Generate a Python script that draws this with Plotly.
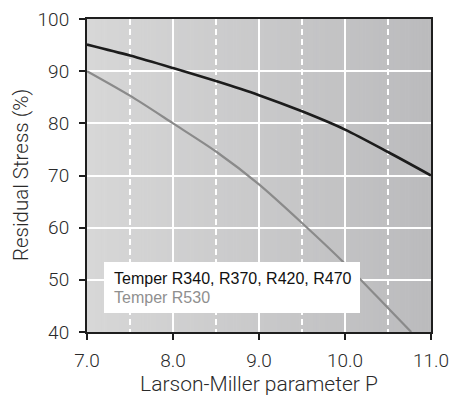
import plotly.graph_objects as go

# Data
p_black = [7.0, 7.5, 8.0, 8.5, 9.0, 9.5, 10.0, 10.5, 11.0]
s_black = [95.1, 93.0, 90.6, 88.1, 85.4, 82.3, 78.8, 74.5, 70.0]
p_gray = [7.0, 7.5, 8.0, 8.5, 9.0, 9.5, 10.0, 10.5, 10.77]
s_gray = [90.0, 85.3, 80.0, 74.6, 68.3, 60.9, 53.1, 44.6, 40.0]
name_black = "Temper R340, R370, R420, R470"
name_gray = "Temper R530"
x_ticks = [7.0, 8.0, 9.0, 10.0, 11.0]
y_ticks = [40, 50, 60, 70, 80, 90, 100]

FONT = "Roboto"
TXT = "#2a2a2a"

fig = go.Figure()
fig.add_trace(go.Scatter(x=p_black, y=s_black, mode="lines", line=dict(color="#1c1c1c", width=2.6, shape="spline", smoothing=0.8),
                         name=name_black, showlegend=False, hoverinfo="skip"))
fig.add_trace(go.Scatter(x=p_gray, y=s_gray, mode="lines", line=dict(color="#8a8a8a", width=2.2, shape="spline", smoothing=0.8),
                         name=name_gray, showlegend=False, hoverinfo="skip", cliponaxis=True))

# gradient background (style only)
shapes = []
N = 120
c0 = (215, 215, 215)
c1 = (187, 187, 189)
for i in range(N):
    t = i / (N - 1)
    c = tuple(round(c0[k] + (c1[k] - c0[k]) * t) for k in range(3))
    shapes.append(dict(type="rect", xref="paper", yref="paper", x0=i / N, x1=(i + 1) / N + 0.002, y0=0, y1=1,
                       fillcolor="rgb(%d,%d,%d)" % c, line=dict(width=0), layer="below"))

# legend box
L, R, T, B = 104, 360, 262, 313
def px(x):
    return (x - 87) / 344
def py(y):
    return (332 - y) / 313
shapes.append(dict(type="rect", xref="paper", yref="paper", x0=px(L), x1=px(R), y0=py(B), y1=py(T),
                   fillcolor="white", line=dict(width=0), layer="above"))

fig.update_layout(
    width=452, height=396,
    margin=dict(l=87, r=21, t=19, b=64),
    paper_bgcolor="white", plot_bgcolor="rgba(0,0,0,0)",
    shapes=shapes,
    font=dict(family=FONT, color=TXT, size=19, weight=300),
    annotations=[
        dict(xref="paper", yref="paper", x=px(112), y=py(278), text=name_black, showarrow=False,
             xanchor="left", yanchor="middle", font=dict(family="Liberation Sans", size=16, color="#111111")),
        dict(xref="paper", yref="paper", x=px(112), y=py(297), text=name_gray, showarrow=False,
             xanchor="left", yanchor="middle", font=dict(family="Liberation Sans", size=16, color="#8f8f8f")),
        dict(xref="paper", yref="paper", x=px(21), xanchor="center", y=py(175), yanchor="middle",
             text="Residual Stress (%)", textangle=-90, showarrow=False,
             font=dict(family=FONT, size=20.5, color=TXT, weight=300)),
    ],
)
fig.update_xaxes(range=[7, 11], tickvals=x_ticks, ticktext=["%.1f" % v for v in x_ticks],
                 showgrid=True, gridcolor="white", gridwidth=1.6, automargin=False,
                 minor=dict(dtick=0.5, tick0=7.5, showgrid=True, gridcolor="white", gridwidth=1.6, griddash="6px,4px"),
                 showline=True, linecolor="#1e1e1e", linewidth=2, mirror=True,
                 ticks="outside", ticklen=6, tickcolor="#1e1e1e", tickwidth=1.5,
                 tickfont=dict(size=19, color=TXT, weight=300), zeroline=False, ticklabelstandoff=4,
                 title=dict(text="Larson-Miller parameter P", font=dict(size=21, color=TXT, weight=300), standoff=5))
fig.update_yaxes(range=[40, 100], tickvals=y_ticks, showgrid=True, gridcolor="white", gridwidth=1.6, automargin=False,
                 showline=True, linecolor="#1e1e1e", linewidth=2, mirror=True,
                 ticks="outside", ticklen=6, tickcolor="#1e1e1e", tickwidth=1.5,
                 tickfont=dict(size=19, color=TXT, weight=300), zeroline=False, ticklabelstandoff=6)

fig.write_html("out.html")
